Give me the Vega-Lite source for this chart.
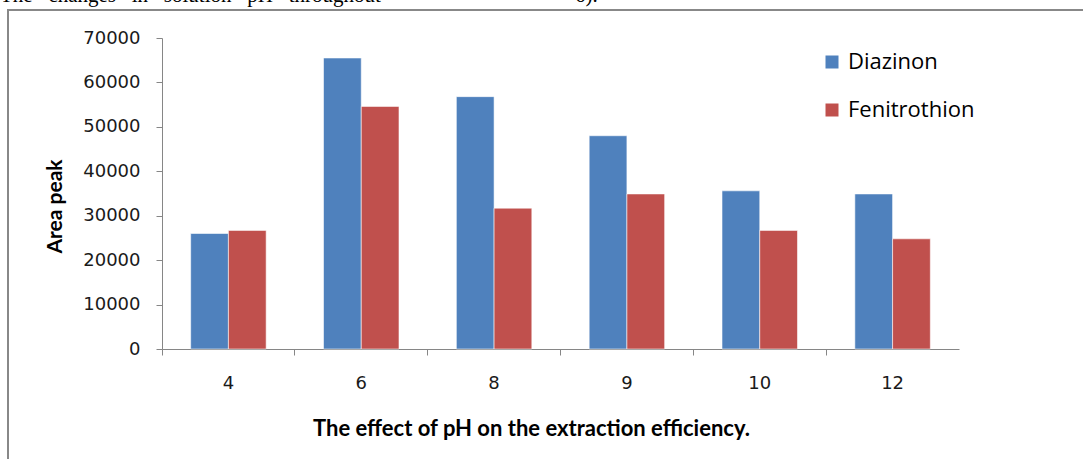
{
  "$schema": "https://vega.github.io/schema/vega-lite/v6.json",
  "autosize": "none",
  "width": 1100,
  "height": 460,
  "padding": {"left": 8, "top": 10, "right": 0, "bottom": 0},
  "background": "white",
  "config": {
    "view": {"stroke": "#888888", "strokeWidth": 2},
    "axis": {"grid": false, "domainColor": "#868686", "tickColor": "#868686", "labelColor": "#1a1a1a", "titleColor": "#000000"}
  },
  "title": {
    "text": "The\u00a0\u00a0\u00a0changes\u00a0\u00a0\u00a0in\u00a0\u00a0\u00a0solution\u00a0\u00a0\u00a0pH\u00a0\u00a0\u00a0throughout\u00a0\u00a0\u00a0\u00a0\u00a0\u00a0\u00a0\u00a0\u00a0\u00a0\u00a0\u00a0\u00a0\u00a0\u00a0\u00a0\u00a0\u00a0\u00a0\u00a0\u00a0\u00a0\u00a0\u00a0\u00a0\u00a0\u00a0\u00a0\u00a0\u00a0\u00a0\u00a0\u00a0\u00a0\u00a0\u00a0\u00a06).",
    "font": "Liberation Serif",
    "fontSize": 21,
    "fontWeight": "normal",
    "color": "#000000",
    "anchor": "start",
    "frame": "group",
    "baseline": "alphabetic",
    "offset": 0,
    "dx": -8,
    "dy": 13
  },
  "data": {
    "values": [
      {"pH": "4", "series": "Diazinon", "area": 26000},
      {"pH": "4", "series": "Fenitrothion", "area": 26700},
      {"pH": "6", "series": "Diazinon", "area": 65500},
      {"pH": "6", "series": "Fenitrothion", "area": 54600},
      {"pH": "8", "series": "Diazinon", "area": 56800},
      {"pH": "8", "series": "Fenitrothion", "area": 31700},
      {"pH": "9", "series": "Diazinon", "area": 48000},
      {"pH": "9", "series": "Fenitrothion", "area": 34900},
      {"pH": "10", "series": "Diazinon", "area": 35600},
      {"pH": "10", "series": "Fenitrothion", "area": 26700},
      {"pH": "12", "series": "Diazinon", "area": 34900},
      {"pH": "12", "series": "Fenitrothion", "area": 24800}
    ]
  },
  "mark": {"type": "bar", "stroke": "white", "strokeWidth": 0.8, "strokeOpacity": 0.7},
  "encoding": {
    "x": {
      "field": "pH",
      "type": "nominal",
      "sort": null,
      "scale": {"range": [154, 951], "paddingInner": 0, "paddingOuter": 0},
      "axis": {
        "orient": "bottom",
        "offset": -121,
        "bandPosition": 0,
        "labelAngle": 0,
        "labelFont": "DejaVu Sans",
        "labelFontSize": 18,
        "labelPadding": 19,
        "tickSize": 6,
        "title": "The effect of pH on the extraction efficiency.",
        "titleFont": "Lato",
        "titleFontSize": 22,
        "titleFontWeight": "bold",
        "titleX": 523,
        "titleY": 79,
        "titleBaseline": "middle",
        "titleAlign": "center"
      }
    },
    "xOffset": {
      "field": "series",
      "type": "nominal",
      "scale": {"paddingInner": 0, "paddingOuter": 0.76}
    },
    "y": {
      "field": "area",
      "type": "quantitative",
      "scale": {"domain": [0, 70000], "range": [339, 28], "nice": false, "zero": true},
      "axis": {
        "orient": "left",
        "offset": -154,
        "values": [0, 10000, 20000, 30000, 40000, 50000, 60000, 70000],
        "format": "d",
        "labelFont": "DejaVu Sans",
        "labelFontSize": 18,
        "labelPadding": 16,
        "tickSize": 6,
        "title": "Area peak",
        "titleFont": "Lato",
        "titleFontSize": 21,
        "titleFontWeight": "bold",
        "titleAngle": -90,
        "titleX": -107,
        "titleY": 196,
        "titleBaseline": "middle",
        "titleAlign": "center"
      }
    },
    "color": {
      "field": "series",
      "type": "nominal",
      "scale": {"domain": ["Diazinon", "Fenitrothion"], "range": ["#4F81BD", "#C0504D"]},
      "legend": {
        "title": null,
        "orient": "none",
        "legendX": 813,
        "legendY": 41,
        "padding": 0,
        "symbolType": "square",
        "symbolSize": 169,
        "symbolStrokeWidth": 0,
        "labelFont": "Open Sans",
        "labelFontSize": 22,
        "labelColor": "#000000",
        "labelOffset": 5,
        "rowPadding": 26
      }
    }
  }
}
